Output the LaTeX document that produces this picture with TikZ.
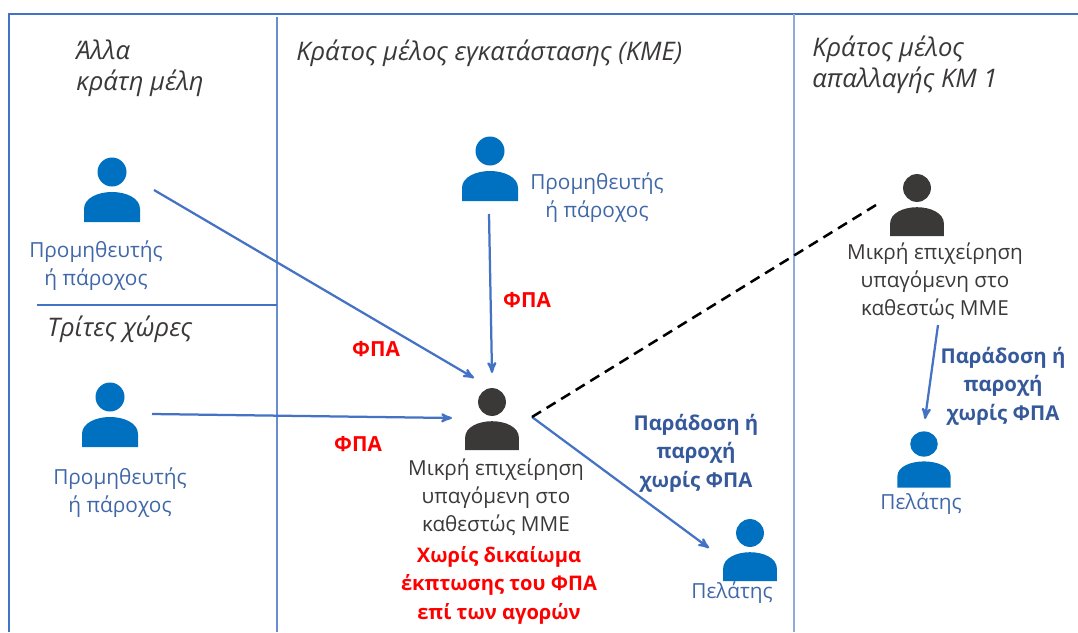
\documentclass[tikz,border=0pt]{standalone}
\usepackage{fontspec}
\setmainfont{Open Sans}
\usetikzlibrary{arrows,positioning}
\definecolor{iconblue}{HTML}{0070C0}
\definecolor{icondark}{HTML}{3B3838}
\definecolor{lineblue}{HTML}{4472C4}
\definecolor{paleblue}{HTML}{8FAADC}
\definecolor{textblue}{HTML}{35599B}
\definecolor{roleblue}{HTML}{4068A8}

\tikzset{
  person/.pic={
    \fill[pic actions] (0,0) circle (14.5);
    \fill[pic actions] (-28,50) -- (-28,37) .. controls (-28,26) and (-14,20) .. (0,20)
      .. controls (14,20) and (28,26) .. (28,37) -- (28,50) -- cycle;
  },
  region/.style={font=\fontsize{18.2}{22}\selectfont\itshape, align=left, anchor=north west, text=icondark, inner sep=0pt},
  role/.style={font=\fontsize{14.8}{20}\selectfont, align=center, text=roleblue},
  firm/.style={font=\fontsize{14.7}{20}\selectfont, align=center, text=icondark},
  vat/.style={font=\fontsize{14.8}{20}\selectfont\bfseries, align=center, text=red},
  supply/.style={font=\fontsize{14.5}{20.2}\selectfont\bfseries, align=center, text=textblue},
  flow/.style={->, >=stealth', lineblue, line width=1.6pt},
}

\begin{document}
\begin{tikzpicture}[x=0.025cm, y=-0.025cm]
\useasboundingbox (0,0) rectangle (1078,632);

% frame and dividers
\draw[lineblue, line width=1.2pt] (9,632) -- (9,14) -- (1078,14);
\draw[lineblue!80!white, line width=0.8pt] (277,17) -- (277,632);
\draw[paleblue, line width=1pt] (794,14) -- (794,632);
\draw[lineblue, line width=0.9pt] (37,305) -- (277,305);

\coordinate (A) at (154,190);
\coordinate (B) at (474,378);
\coordinate (C) at (152,414);
\coordinate (D) at (452,418);
\coordinate (E) at (489,214);
\coordinate (F) at (492,373);
\coordinate (G) at (532,417);
\coordinate (H) at (876,205);
\coordinate (J) at (709,548);
\coordinate (K) at (938,325);
\coordinate (L) at (925,419);

\pic[fill=iconblue] at (112,172) {person};
\pic[fill=iconblue] at (110,397) {person};
\pic[fill=iconblue] at (490,151) {person};
\pic[fill=icondark, scale=0.96] at (492,402) {person};
\pic[fill=icondark, scale=0.96] at (917,188) {person};
\pic[fill=iconblue, scale=0.96] at (750,533) {person};
\pic[fill=iconblue, xscale=0.95, yscale=0.87] at (924,444) {person};

\draw[flow] (A) -- (B);
\draw[flow] (C) -- (D);
\draw[flow] (E) -- (F);
\draw[flow] (G) -- (J);
\draw[flow] (K) -- (L);
\draw[black, line width=1.8pt, dash pattern=on 7.5pt off 4.67pt] (G) -- (H);

\node[region] (others) at (76,40) {Άλλα\\κράτη μέλη};
\node[region] (third) at (47,316) {Τρίτες χώρες};
\node[region] (home) at (296,40) {Κράτος μέλος εγκατάστασης (ΚΜΕ)};
\node[region] (exempt) at (812,36) {Κράτος μέλος\\απαλλαγής ΚΜ 1};

\node[role] (supA) at (96,266) {Προμηθευτής\\ή πάροχος};
\node[role] (supB) at (120,493) {Προμηθευτής\\ή πάροχος};
\node[role] (supC) at (597,198) {Προμηθευτής\\ή πάροχος};
\node[role] (custA) at (732,593) {Πελάτης};
\node[role] (custB) at (921,504) {Πελάτης};

\node[firm] (firmA) at (496,497) {Μικρή επιχείρηση\\υπαγόμενη στο\\καθεστώς ΜΜΕ};
\node[firm] (firmB) at (935,281) {Μικρή επιχείρηση\\υπαγόμενη στο\\καθεστώς ΜΜΕ};

\node[vat] (vatA) at (376,349) {ΦΠΑ};
\node[vat] (vatB) at (527,300) {ΦΠΑ};
\node[vat] (vatC) at (358,444) {ΦΠΑ};
\node[vat, font=\fontsize{14.3}{20.2}\selectfont\bfseries] (noded) at (499,585) {Χωρίς δικαίωμα\\έκπτωσης του ΦΠΑ\\επί των αγορών};

\node[supply] (supplyA) at (696,453) {Παράδοση ή\\παροχή\\χωρίς ΦΠΑ};
\node[supply] (supplyB) at (1003,386) {Παράδοση ή\\παροχή\\χωρίς ΦΠΑ};

\end{tikzpicture}
\end{document}
